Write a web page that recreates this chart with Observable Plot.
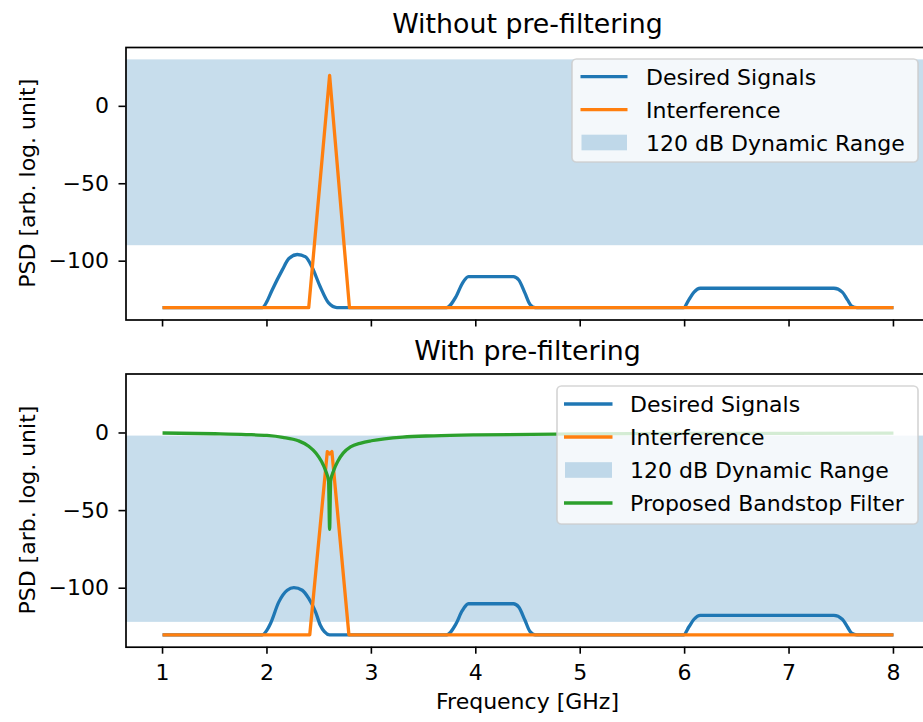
<!DOCTYPE html>
<html><head><meta charset="utf-8">
<script src="https://cdn.jsdelivr.net/npm/d3@7"></script>
<script src="https://cdn.jsdelivr.net/npm/@observablehq/plot@0.6"></script>
<style>
html,body{margin:0;padding:0;background:#fff;overflow:hidden;}
#chart{width:923px;height:722px;overflow:hidden;position:relative;background:#fff;}
#chart svg{display:block;overflow:visible;max-width:none !important;width:930px;}
</style></head><body><div id="chart"></div>
<script>
// ---- data ----
const FREQ_TICKS = [1, 2, 3, 4, 5, 6, 7, 8];
const PSD_TICKS = [-100, -50, 0];

// Top panel (without pre-filtering)
const topDesiredX = [1.0, 1.955, 2.0, 2.05, 2.146, 2.21, 2.29, 2.37, 2.43, 2.51, 2.59, 2.67,
  3.72, 3.81, 3.87, 3.93, 4.36, 4.41, 4.47, 4.52, 4.57,
  5.99, 6.04, 6.09, 6.15, 7.43, 7.51, 7.56, 7.60, 7.65, 8.0];
const topDesiredY = [-130, -130, -126, -118.6, -105.8, -98.3, -95.7, -97.2, -103.6, -116.5, -127, -130,
  -130, -123, -114.5, -110, -110, -112, -120.5, -128, -130,
  -130, -125, -120, -117.5, -117.5, -120, -125, -129, -130, -130];
const topInterfX = [1.0, 2.40, 2.60, 2.79, 8.0];
const topInterfY = [-130, -130, 20, -130, -130];
const topRange = {lo: -90, hi: 30};

// Bottom panel (with pre-filtering)
const botDesiredX = [1.0, 1.955, 2.0, 2.034, 2.114, 2.194, 2.258, 2.338, 2.40, 2.465, 2.51, 2.55, 2.6,
  3.72, 3.81, 3.87, 3.93, 4.36, 4.41, 4.47, 4.52, 4.57,
  5.99, 6.04, 6.09, 6.15, 7.43, 7.51, 7.56, 7.60, 7.65, 8.0];
const botDesiredY = [-130, -130, -127, -122.7, -108.8, -101.3, -99.6, -101.3, -106.6, -115.2, -123.7, -128, -130,
  -130, -123, -114.5, -110, -110, -112, -120.5, -128, -130,
  -130, -125, -120, -117.5, -117.5, -120, -125, -129, -130, -130];
const botInterfX = [1.0, 2.41, 2.578, 2.60, 2.622, 2.785, 8.0];
const botInterfY = [-130, -130, -12, -13.5, -12, -130, -130];
const filterX = [1.0, 1.5, 1.8, 2.0, 2.15, 2.3, 2.4, 2.47, 2.52, 2.56, 2.59, 2.60, 2.61, 2.64, 2.68, 2.73, 2.8, 2.9, 3.0, 3.3, 3.6, 4.0, 5.0, 6.0, 7.0, 8.0];
const filterY = [0, -0.5, -1, -1.6, -2.8, -5, -8.5, -13, -18, -24, -31, -62, -31, -24, -18, -13, -9, -6.5, -5, -2.6, -1.8, -1.2, -0.6, -0.3, -0.2, -0.1];
const botRange = {lo: -122, hi: -2};

const titles = ["Without pre-filtering", "With pre-filtering"];
const yLabel = "PSD [arb. log. unit]";
const xLabel = "Frequency [GHz]";
const legendTop = ["Desired Signals", "Interference", "120 dB Dynamic Range"];
const legendBot = ["Desired Signals", "Interference", "120 dB Dynamic Range", "Proposed Bandstop Filter"];

const BLUE = "#1f77b4", ORANGE = "#ff7f0e", GREEN = "#2ca02c";
const FONT = "DejaVu Sans, sans-serif";
const FS = 22;

const rows = (xs, ys) => xs.map((x, i) => ({x, y: ys[i]}));

function panel({height, marginTop, marginBottom, range, series, showXLabels}) {
  return Plot.plot({
    width: 930, height,
    marginLeft: 125.5, marginRight: 0.5, marginTop, marginBottom,
    style: {fontFamily: FONT, fontSize: FS + "px", color: "black", background: "white", overflow: "visible"},
    x: {domain: [0.65, 8.35]},
    y: {domain: [-138, 38]},
    marks: [
      Plot.rect([range], {y1: "lo", y2: "hi", fill: BLUE, fillOpacity: 0.25}),
      ...series.map(s => Plot.line(rows(s.x, s.y), {x: "x", y: "y", stroke: s.color, strokeWidth: 3.3, curve: s.curve, strokeLinejoin: "round", strokeLinecap: "butt"})),
      Plot.axisX({ticks: FREQ_TICKS, tickSize: 7, tickPadding: 10, strokeWidth: 1.6, label: null,
        tickFormat: showXLabels ? (d => String(d)) : (() => "")}),
      Plot.axisY({ticks: PSD_TICKS, tickSize: 7, tickPadding: 10, strokeWidth: 1.6, label: null}),
      Plot.frame({stroke: "black", strokeWidth: 1.7})
    ]
  });
}

function addText(svg, txt, x, y, size, opts = {}) {
  const t = d3.select(svg).append("text")
    .attr("x", x).attr("y", y)
    .attr("text-anchor", opts.anchor || "middle")
    .attr("font-family", FONT).attr("font-size", size)
    .attr("fill", "black").text(txt);
  if (opts.rotate) t.attr("x", 0).attr("y", 0).attr("transform", `translate(${x},${y}) rotate(${opts.rotate})`);
  return t;
}

function addLegend(svg, box, items, kinds, lineX1, lineX2, textX, rowYs) {
  const g = d3.select(svg).append("g").attr("text-anchor", "start");
  g.append("rect").attr("x", box.x).attr("y", box.y).attr("width", box.w).attr("height", box.h)
    .attr("rx", 4.5).attr("fill", "white").attr("fill-opacity", 0.8)
    .attr("stroke", "#cccccc").attr("stroke-opacity", 0.8).attr("stroke-width", 1.7);
  items.forEach((label, i) => {
    const y = rowYs[i], k = kinds[i];
    if (k === "patch") {
      g.append("rect").attr("x", lineX1 + 1).attr("y", y - 7.8).attr("width", lineX2 - lineX1 - 1.5).attr("height", 15.6)
        .attr("fill", BLUE).attr("fill-opacity", 0.25);
    } else {
      g.append("line").attr("x1", lineX1).attr("x2", lineX2).attr("y1", y).attr("y2", y)
        .attr("stroke", k).attr("stroke-width", 3.3);
    }
    g.append("text").attr("x", textX).attr("y", y + 8).attr("text-anchor", "start")
      .attr("font-family", FONT).attr("font-size", FS)
      .attr("fill", "black").text(label);
  });
}

const chart = document.getElementById("chart");

const topSvg = panel({
  height: 330, marginTop: 47, marginBottom: 10.5, range: topRange, showXLabels: false,
  series: [
    {x: topDesiredX, y: topDesiredY, color: BLUE, curve: "monotone-x"},
    {x: topInterfX, y: topInterfY, color: ORANGE, curve: "linear"}
  ]
});
chart.appendChild(topSvg);
addText(topSvg, titles[0], 527.5, 33, 26.8);
addText(topSvg, yLabel, 35, 183.2, FS, {rotate: -90});
addLegend(topSvg, {x: 572, y: 59, w: 346, h: 103}, legendTop, [BLUE, ORANGE, "patch"], 580.5, 627.5, 646, [76.7, 109.7, 142.5]);

const botSvg = panel({
  height: 392, marginTop: 43.5, marginBottom: 75.3, range: botRange, showXLabels: true,
  series: [
    {x: botDesiredX, y: botDesiredY, color: BLUE, curve: "monotone-x"},
    {x: botInterfX, y: botInterfY, color: ORANGE, curve: "linear"},
    {x: filterX, y: filterY, color: GREEN, curve: "monotone-x"}
  ]
});
chart.appendChild(botSvg);
addText(botSvg, titles[1], 527.5, 30, 26.8);
addText(botSvg, yLabel, 35, 180.1, FS, {rotate: -90});
addText(botSvg, xLabel, 527.5, 379, FS);
addLegend(botSvg, {x: 557, y: 56, w: 361, h: 138}, legendBot, [BLUE, ORANGE, "patch", GREEN], 564, 612.5, 630, [74, 107, 140, 173]);
</script></body></html>
